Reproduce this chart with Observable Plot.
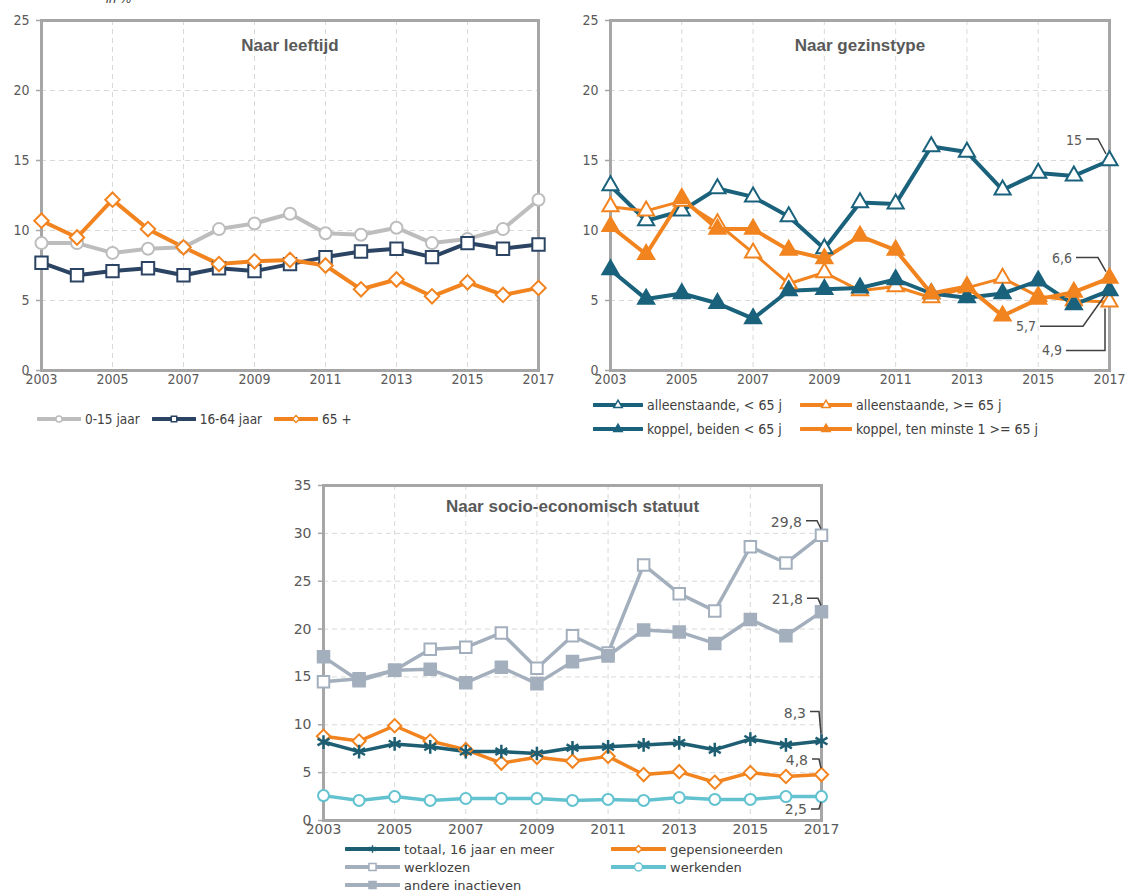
<!DOCTYPE html>
<html><head><meta charset="utf-8">
<script src="https://cdn.jsdelivr.net/npm/d3@7"></script>
<script src="https://cdn.jsdelivr.net/npm/@observablehq/plot@0.6"></script>
<style>
body{margin:0;background:#fff;}
#root{position:relative;width:1137px;height:893px;overflow:hidden;background:#fff;}
.pan{position:absolute;}
.leg{position:absolute;display:flex;align-items:center;color:#404040;white-space:nowrap;}
.legrow{position:absolute;display:flex;align-items:center;gap:12px;}
.legrow .leg{position:static;}
.leg svg{display:block;margin-right:4px;}
#unit{position:absolute;left:106px;top:-9px;font:italic 13px "Liberation Sans",sans-serif;color:#404040;}
</style></head>
<body><div id="root"><div id="unit">in %</div></div>
<script>
// ---------- data ----------
const years = [2003,2004,2005,2006,2007,2008,2009,2010,2011,2012,2013,2014,2015,2016,2017];
const xTickLabels = [2003,2005,2007,2009,2011,2013,2015,2017];

// Panel 1: Naar leeftijd
const age_0_15  = [9.1,9.1,8.4,8.7,8.8,10.1,10.5,11.2,9.8,9.7,10.2,9.1,9.4,10.1,12.2];
const age_16_64 = [7.7,6.8,7.1,7.3,6.8,7.3,7.1,7.6,8.1,8.5,8.7,8.1,9.1,8.7,9.0];
const age_65    = [10.7,9.5,12.2,10.1,8.8,7.6,7.8,7.9,7.5,5.8,6.5,5.3,6.3,5.4,5.9];

// Panel 2: Naar gezinstype
const alleen_lt65 = [13.2,10.7,11.4,13.0,12.4,11.0,8.7,12.0,11.9,16.0,15.6,12.9,14.1,13.9,15.0];
const alleen_ge65 = [11.7,11.4,12.1,10.5,8.4,6.2,7.0,5.7,6.0,5.2,5.9,6.6,5.3,5.0,4.9];
const koppel_lt65 = [7.2,5.1,5.5,4.8,3.7,5.7,5.8,5.9,6.5,5.5,5.2,5.5,6.4,4.7,5.7];
const koppel_ge65 = [10.3,8.3,12.3,10.1,10.1,8.6,8.0,9.6,8.6,5.5,6.0,3.9,5.1,5.6,6.6];

// Panel 3: Naar socio-economisch statuut
const totaal     = [8.2,7.2,8.0,7.7,7.2,7.2,7.0,7.6,7.7,7.9,8.1,7.4,8.5,7.9,8.3];
const werklozen  = [14.5,14.8,15.7,17.9,18.1,19.6,15.9,19.3,17.5,26.7,23.7,21.9,28.6,26.9,29.8];
const inactieven = [17.1,14.6,15.7,15.8,14.4,16.0,14.3,16.6,17.2,19.9,19.7,18.5,21.0,19.3,21.8];
const gepens     = [8.8,8.3,9.9,8.3,7.4,6.0,6.6,6.2,6.7,4.8,5.1,4.0,5.0,4.6,4.8];
const werkenden  = [2.6,2.1,2.5,2.1,2.3,2.3,2.3,2.1,2.2,2.1,2.4,2.2,2.2,2.5,2.5];

const titles = ["Naar leeftijd","Naar gezinstype","Naar socio-economisch statuut"];

// ---------- styling ----------
const NARROW = '"Liberation Sans Narrow","DejaVu Sans Condensed","Liberation Sans",sans-serif';
const WIDE = '"DejaVu Sans","Liberation Sans",sans-serif';
const TITLEF = '"Liberation Sans",Arial,sans-serif';
const C = {gray:"#bdbdbd", navy:"#2c4463", orange:"#f28420", teal:"#1a627c",
           slate:"#a3afbd", cyan:"#62c2d0", dteal:"#1d5e72"};
const gridCol = "#d9d9d9", frameCol = "#a6a6a6", txt = "#595959";

const p1Series = [
  {name:"0-15 jaar", values:age_0_15, color:C.gray, symbol:"circle", fill:"white", r:6, sw:4},
  {name:"16-64 jaar", values:age_16_64, color:C.navy, symbol:"square", fill:"white", r:7, sw:4},
  {name:"65 +", values:age_65, color:C.orange, symbol:"diamond2", fill:"white", r:6.5, sw:4}
];
const p2Series = [
  {name:"alleenstaande, < 65 j", values:alleen_lt65, color:C.teal, symbol:"triangle", fill:"white", r:6, sw:4},
  {name:"alleenstaande, >= 65 j", values:alleen_ge65, color:C.orange, symbol:"triangle", fill:"white", r:6, sw:3},
  {name:"koppel, beiden < 65 j", values:koppel_lt65, color:C.teal, symbol:"triangle", fill:C.teal, r:6, sw:4},
  {name:"koppel, ten minste 1 >= 65 j", values:koppel_ge65, color:C.orange, symbol:"triangle", fill:C.orange, r:6, sw:4}
];
const p3Series = [
  {name:"werklozen", values:werklozen, color:C.slate, symbol:"square", fill:"white", r:6.5, sw:3.5},
  {name:"andere inactieven", values:inactieven, color:C.slate, symbol:"square", fill:C.slate, r:6.5, sw:3.5},
  {name:"werkenden", values:werkenden, color:C.cyan, symbol:"circle", fill:"white", r:5.5, sw:3.5},
  {name:"gepensioneerden", values:gepens, color:C.orange, symbol:"diamond2", fill:"white", r:6, sw:3.5},
  {name:"totaal, 16 jaar en meer", values:totaal, color:C.dteal, symbol:"asterisk", fill:"none", r:6.5, sw:3.5}
];

// annotations: label, value (from series), text offset & leader offsets (pixels)
const p2Ann = [
  {label:"15", value:alleen_lt65[14], t:[-27,-20], path:[[-23,-21],[-11,-21],[-3,-6]]},
  {label:"6,6", value:koppel_ge65[14], t:[-37,-20], path:[[-33,-20],[-11,-20],[-3,-6]]},
  {label:"5,7", value:koppel_lt65[14], t:[-73,36], path:[[-69,36],[-26,36],[-4,5]]},
  {label:"4,9", value:alleen_ge65[14], t:[-47,49], path:[[-43,49],[-4,49],[-4,7]]}
];
const p3Ann = [
  {label:"29,8", value:werklozen[14], t:[-19,-13], path:[[-15,-14],[-4,-14],[0,-6]]},
  {label:"21,8", value:inactieven[14], t:[-18,-12], path:[[-14,-13],[-3,-13],[0,-6]]},
  {label:"8,3", value:totaal[14], t:[-15,-28], path:[[-11,-29],[-2,-29],[0,-7]]},
  {label:"4,8", value:gepens[14], t:[-13,-14], path:[[-9,-15],[-2,-15],[0,-6]]},
  {label:"2,5", value:werkenden[14], t:[-14,13], path:[[-10,13],[-2,13],[0,6]]}
];

function tidy(series){
  return series.map(s => years.map((y,i)=>({year:y, value:s.values[i]})));
}

function annMark(anns, font, fs){
  return (index, scales, values, dims, context) => {
    const g = d3.create("svg:g");
    for (const a of anns){
      const px = scales.x(2017), py = scales.y(a.value);
      g.append("path")
        .attr("d", "M" + a.path.map(([dx,dy]) => (px+dx)+","+(py+dy)).join("L"))
        .attr("fill","none").attr("stroke","#404040").attr("stroke-width",1.5);
      g.append("text").attr("x", px + a.t[0]).attr("y", py + a.t[1])
        .attr("text-anchor","end").attr("dominant-baseline","central")
        .attr("font-family", font).attr("font-size", fs).attr("fill", txt)
        .text(a.label);
    }
    return g.node();
  };
}

function makePanel(o){
  const data = tidy(o.series);
  const marks = [
    Plot.gridX(xTickLabels.slice(1,-1), {stroke:gridCol, strokeOpacity:1, strokeDasharray:"5,4"}),
    Plot.gridY(d3.range(o.yStep, o.yMax, o.yStep), {stroke:gridCol, strokeOpacity:1, strokeDasharray:"5,4"}),
    Plot.frame({stroke:frameCol, strokeWidth:3}),
    Plot.axisY(d3.range(0, o.yMax + 1, o.yStep), {tickSize:5, tickPadding:7, stroke:frameCol, strokeWidth:1.5, fill:txt, fontSize:o.fs, label:null}),
    Plot.axisX(xTickLabels, {tickSize:0, tickPadding:4, fill:txt, fontSize:o.fs, tickFormat:d=>String(d), label:null})
  ];
  o.series.forEach((s,i)=>{
    marks.push(Plot.line(data[i], {x:"year", y:"value", stroke:s.color, strokeWidth:s.sw}));
  });
  o.series.forEach((s,i)=>{
    marks.push(Plot.dot(data[i], {x:"year", y:"value", symbol:s.symbol, r:s.r,
      fill:s.fill, stroke:s.color, strokeWidth: s.symbol==="asterisk"?2.5:2}));
  });
  if (o.ann) marks.push(annMark(o.ann, o.font, o.fs));
  marks.push(Plot.text([o.title], {frameAnchor:"top", dy:o.titleDy, fontWeight:"bold", fontSize:17, fill:txt, fontFamily:TITLEF}));
  const svg = Plot.plot({
    width:o.width, height:o.height,
    marginLeft:o.ml, marginRight:o.mr, marginTop:o.mt, marginBottom:o.mb,
    x:{domain:[2003,2017], type:"linear"},
    y:{domain:[0,o.yMax]},
    style:{fontFamily:o.font, fontSize:o.fs+"px", color:txt, background:"transparent", overflow:"visible"},
    marks
  });
  const d = document.createElement("div");
  d.className = "pan"; d.style.left = o.left+"px"; d.style.top = o.top+"px";
  d.appendChild(svg);
  document.getElementById("root").appendChild(d);
}

makePanel({series:p1Series, title:titles[0], yMax:25, yStep:5, width:560, height:400,
  ml:41, mr:22, mt:20, mb:30, left:0, top:0, font:NARROW, fs:14, titleDy:18});
makePanel({series:p2Series, title:titles[1], yMax:25, yStep:5, width:567, height:400,
  ml:40, mr:28, mt:20, mb:30, left:570, top:0, font:NARROW, fs:14, titleDy:18, ann:p2Ann});
makePanel({series:p3Series, title:titles[2], yMax:35, yStep:5, width:571, height:375,
  ml:53, mr:20, mt:15, mb:25, left:270, top:470, font:WIDE, fs:14, titleDy:14, ann:p3Ann});

// ---------- legends ----------
const symMap = {circle:d3.symbolCircle, square:d3.symbolSquare, diamond2:d3.symbolDiamond2,
  triangle:d3.symbolTriangle, asterisk:d3.symbolAsterisk};
function legendItem(s, left, cy, lineW, font, fs, msize, parent){
  const div = document.createElement("div");
  div.className = "leg";
  if (left != null){ div.style.left = left+"px"; div.style.top = (cy-9)+"px"; }
  div.style.height="18px";
  div.style.font = fs+"px "+font;
  const svg = d3.create("svg").attr("width", lineW).attr("height", 18);
  svg.append("line").attr("x1",1).attr("x2",lineW-1).attr("y1",9).attr("y2",9)
    .attr("stroke", s.color).attr("stroke-width",4).attr("stroke-linecap","round");
  svg.append("path").attr("transform",`translate(${lineW/2},9)`)
    .attr("d", d3.symbol(symMap[s.symbol], msize)())
    .attr("fill", s.fill).attr("stroke", s.color).attr("stroke-width",1.5);
  div.appendChild(svg.node());
  const sp = document.createElement("span"); sp.textContent = s.name; div.appendChild(sp);
  (parent || document.getElementById("root")).appendChild(div);
}
const row1 = document.createElement("div");
row1.className = "legrow"; row1.style.left = "37px"; row1.style.top = "410px";
document.getElementById("root").appendChild(row1);
p1Series.forEach(s => legendItem(s, null, null, 44, NARROW, 13.5, 30, row1));

legendItem(p2Series[0], 593, 405, 50, NARROW, 14, 30);
legendItem(p2Series[1], 800, 405, 52, NARROW, 14, 30);
legendItem(p2Series[2], 593, 429, 50, NARROW, 14, 30);
legendItem(p2Series[3], 800, 429, 52, NARROW, 14, 30);

legendItem(p3Series[4], 345, 849, 55, WIDE, 13, 40);
legendItem(p3Series[3], 611, 849, 55, WIDE, 13, 30);
legendItem(p3Series[0], 345, 867, 55, WIDE, 13, 50);
legendItem(p3Series[2], 611, 867, 55, WIDE, 13, 50);
legendItem(p3Series[1], 345, 885, 55, WIDE, 13, 50);
</script></body></html>
